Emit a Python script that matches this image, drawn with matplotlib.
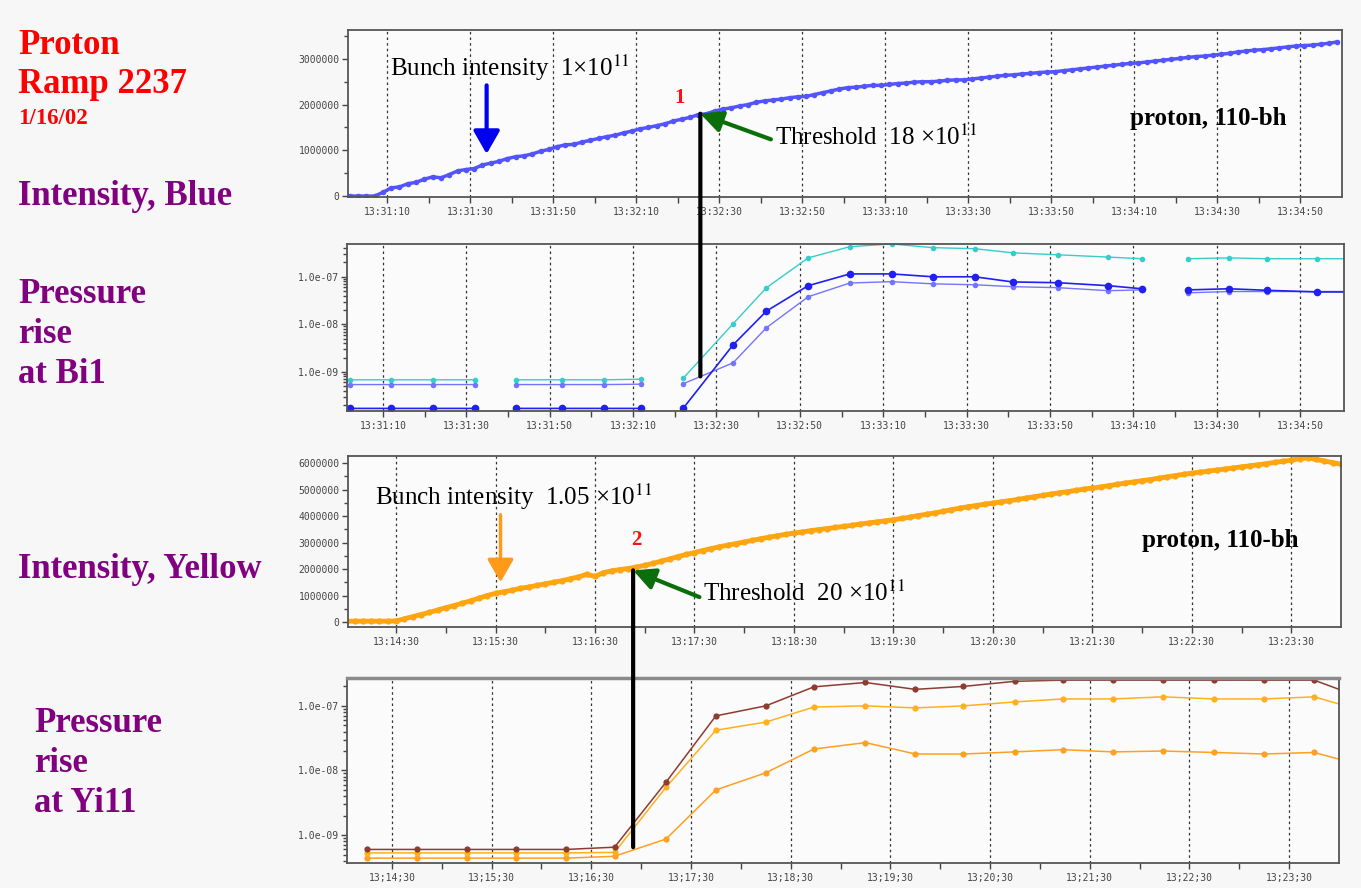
import numpy as np
import matplotlib
matplotlib.use("Agg")
import matplotlib.pyplot as plt
from matplotlib.ticker import FuncFormatter, FixedLocator, MultipleLocator, NullFormatter
from matplotlib.patches import ConnectionPatch
from matplotlib.transforms import blended_transform_factory

W, H = 1361, 888

# Blue ring intensity, one sample every 2 s starting 13:31:01 (units of 1e6)
blue_int = [0.00, 0.00, 0.00, 0.00, 0.08, 0.18, 0.20, 0.27, 0.30, 0.37,
            0.42, 0.40, 0.47, 0.55, 0.58, 0.60, 0.68, 0.72, 0.76, 0.82,
            0.86, 0.88, 0.92, 0.98, 1.02, 1.08, 1.12, 1.13, 1.18, 1.22,
            1.26, 1.30, 1.33, 1.38, 1.42, 1.47, 1.50, 1.54, 1.58, 1.64,
            1.68, 1.72, 1.78, 1.80, 1.86, 1.90, 1.93, 1.97, 2.00, 2.05,
            2.08, 2.10, 2.12, 2.15, 2.17, 2.18, 2.22, 2.26, 2.30, 2.34,
            2.37, 2.38, 2.40, 2.42, 2.42, 2.44, 2.46, 2.47, 2.49, 2.50,
            2.50, 2.51, 2.53, 2.54, 2.54, 2.56, 2.58, 2.60, 2.62, 2.64,
            2.65, 2.67, 2.68, 2.70, 2.71, 2.72, 2.74, 2.76, 2.78, 2.80,
            2.82, 2.84, 2.86, 2.88, 2.90, 2.91, 2.93, 2.95, 2.97, 2.99,
            3.01, 3.03, 3.05, 3.06, 3.08, 3.10, 3.12, 3.15, 3.17, 3.19,
            3.20, 3.22, 3.24, 3.26, 3.28, 3.29, 3.30, 3.32, 3.34, 3.37]

# Bi1 vacuum gauges (seconds after 13:31:00), nan = no reading
bi1_t = [2, 12, 22, 32, 37, 42, 53, 63, 72, 77, 82, 94, 102, 112, 122, 132, 142,
         152, 161, 172, 184, 192, 197, 203, 213, 222, 234, 244]
bi1_cyan = [6.8e-10, 6.8e-10, 6.8e-10, 6.8e-10, np.nan, 6.8e-10, 6.8e-10, 6.8e-10, 7.0e-10,
            np.nan, 7.3e-10, 1.03e-8, 5.9e-8, 2.5e-7, 4.3e-7, 4.9e-7, 4.1e-7, 3.9e-7, 3.2e-7,
            2.9e-7, 2.6e-7, 2.4e-7, np.nan, 2.4e-7, 2.5e-7, 2.4e-7, 2.4e-7, 2.4e-7]
bi1_mid = [5.4e-10, 5.4e-10, 5.4e-10, 5.4e-10, np.nan, 5.4e-10, 5.4e-10, 5.4e-10, 5.5e-10,
           np.nan, 5.6e-10, 1.55e-9, 8.5e-9, 3.8e-8, 7.4e-8, 7.9e-8, 7.1e-8, 6.8e-8, 6.2e-8,
           5.9e-8, 5.1e-8, 5.3e-8, np.nan, 4.6e-8, 4.9e-8, 4.9e-8, 4.9e-8, 4.9e-8]
bi1_dark = [1.7e-10, 1.7e-10, 1.7e-10, 1.7e-10, np.nan, 1.7e-10, 1.7e-10, 1.7e-10, 1.7e-10,
            np.nan, 1.7e-10, 3.7e-9, 1.9e-8, 6.5e-8, 1.15e-7, 1.15e-7, 1.0e-7, 1.0e-7, 7.8e-8,
            7.5e-8, 6.5e-8, 5.6e-8, np.nan, 5.3e-8, 5.6e-8, 5.2e-8, 4.8e-8, 4.8e-8]

# Yellow ring intensity, one sample every 5 s starting 13:14:00 (units of 1e6)
yel_int = [0.03, 0.03, 0.03, 0.03, 0.03, 0.03, 0.04, 0.12, 0.20, 0.28,
           0.36, 0.45, 0.54, 0.62, 0.71, 0.80, 0.90, 1.00, 1.08, 1.14,
           1.20, 1.27, 1.32, 1.38, 1.44, 1.50, 1.56, 1.63, 1.70, 1.80,
           1.72, 1.86, 1.93, 1.98, 2.02, 2.07, 2.14, 2.21, 2.30, 2.38,
           2.47, 2.55, 2.62, 2.70, 2.77, 2.84, 2.90, 2.96, 3.02, 3.08,
           3.15, 3.20, 3.26, 3.31, 3.36, 3.40, 3.45, 3.49, 3.53, 3.57,
           3.61, 3.65, 3.70, 3.74, 3.78, 3.82, 3.86, 3.91, 3.96, 4.02,
           4.07, 4.12, 4.18, 4.24, 4.30, 4.35, 4.40, 4.45, 4.49, 4.54,
           4.58, 4.63, 4.68, 4.73, 4.78, 4.83, 4.88, 4.92, 4.97, 5.02,
           5.06, 5.10, 5.15, 5.20, 5.25, 5.29, 5.34, 5.38, 5.43, 5.48,
           5.53, 5.58, 5.62, 5.66, 5.70, 5.74, 5.78, 5.82, 5.86, 5.90,
           5.94, 5.98, 6.03, 6.07, 6.11, 6.17, 6.20, 6.14, 6.08, 6.02,
           5.96]

# Yi11 vacuum gauges (seconds after 13:14:00)
yi_t = [15, 45, 75, 105, 135, 164, 195, 225, 255, 284, 315, 345, 374, 405, 434,
        464, 494, 525, 555, 585, 615]
yi_brown = [6.0e-10, 6.0e-10, 6.0e-10, 6.0e-10, 6.0e-10, 6.5e-10, 6.6e-9, 7.0e-8, 1.0e-7,
            1.97e-7, 2.3e-7, 1.8e-7, 2.0e-7, 2.4e-7, 2.5e-7, 2.5e-7, 2.5e-7, 2.5e-7, 2.5e-7,
            2.5e-7, 1.3e-7]
yi_upper = [5.3e-10, 5.3e-10, 5.3e-10, 5.3e-10, 5.3e-10, 5.4e-10, 5.5e-9, 4.2e-8, 5.6e-8,
            9.6e-8, 1.0e-7, 9.3e-8, 1.0e-7, 1.15e-7, 1.28e-7, 1.28e-7, 1.38e-7, 1.28e-7,
            1.28e-7, 1.38e-7, 8.3e-8]
yi_lower = [4.4e-10, 4.4e-10, 4.4e-10, 4.4e-10, 4.4e-10, 4.7e-10, 8.7e-10, 5.0e-9, 9.2e-9,
            2.15e-8, 2.7e-8, 1.8e-8, 1.8e-8, 1.94e-8, 2.1e-8, 1.94e-8, 2.0e-8, 1.9e-8,
            1.8e-8, 1.9e-8, 1.18e-8]

blue_ticks = [0, 1e6, 2e6, 3e6]
yel_ticks = [0, 1e6, 2e6, 3e6, 4e6, 5e6, 6e6]
p_ticks = [1e-9, 1e-8, 1e-7]

plt.rcParams["font.family"] = "DejaVu Sans Mono"
plt.rcParams["mathtext.fontset"] = "stix"

SERIF = "Liberation Serif"
BG = "#f7f7f7"


def box(x0, y0, x1, y1):
    return [x0 / W, 1 - y1 / H, (x1 - x0) / W, (y1 - y0) / H]


def clock(base, sep=":"):
    def fmt(v, pos):
        s = int(round(base + v))
        return f"{s // 3600}{sep}{s // 60 % 60:02d}{sep}{s % 60:02d}"
    return FuncFormatter(fmt)


def style(ax, xlim, majors, minors, fmt):
    ax.set_facecolor("#fbfbfb")
    ax.set_xlim(*xlim)
    ax.xaxis.set_major_locator(FixedLocator(majors))
    ax.xaxis.set_minor_locator(FixedLocator(minors))
    ax.xaxis.set_major_formatter(fmt)
    ax.grid(axis="x", which="major", color="#333333", lw=0.9, ls=(0, (2, 2.5)))
    ax.tick_params(which="both", direction="out", length=4, width=1,
                   colors="#444444", labelsize=7, pad=3)
    ax.tick_params(axis="y", which="minor", length=3)
    ax.tick_params(axis="y", pad=2)
    for sp in ax.spines.values():
        sp.set_color("#555555")
        sp.set_linewidth(1.3)


def intensity_axis(ax, ylim, ticks):
    ax.set_ylim(*ylim)
    ax.yaxis.set_major_locator(FixedLocator(ticks))
    ax.yaxis.set_minor_locator(MultipleLocator(5e5))
    ax.yaxis.set_major_formatter(FuncFormatter(lambda v, p: f"{int(round(v))}"))


def pressure_axis(ax, ylim):
    ax.set_yscale("log")
    ax.set_ylim(*ylim)
    ax.yaxis.set_major_locator(FixedLocator(p_ticks))
    ax.yaxis.set_major_formatter(FuncFormatter(lambda v, p: f"{v:.1e}"))
    ax.yaxis.set_minor_formatter(NullFormatter())


fig = plt.figure(figsize=(W / 100, H / 100), dpi=100, facecolor=BG)

ax1 = fig.add_axes(box(348, 30, 1342, 197))
ax2 = fig.add_axes(box(347, 244, 1344, 411))
ax3 = fig.add_axes(box(348, 456, 1341, 627))
ax4 = fig.add_axes(box(347, 678, 1339, 863))

blue_base = 13 * 3600 + 31 * 60
yel_base = 13 * 3600 + 14 * 60

# Intensity, Blue
t_blue = 1 + 2 * np.arange(len(blue_int))
ax1.plot(t_blue, np.array(blue_int) * 1e6, color="#5454ff", lw=2.5,
         marker="o", ms=4, mew=0)
style(ax1, (0.6, 240.1), np.arange(10, 240, 20), np.arange(20, 240, 20), clock(blue_base))
intensity_axis(ax1, (-0.02e6, 3.63e6), blue_ticks)

# Pressure at Bi1
ax2.plot(bi1_t, bi1_cyan, color="#36cccc", lw=1, marker="o", ms=4, mew=0)
ax2.plot(bi1_t, bi1_mid, color="#7474ff", lw=1, marker="o", ms=4, mew=0)
ax2.plot(bi1_t, bi1_dark, color="#2020f0", lw=1.2, marker="o", ms=5.5, mew=0)
style(ax2, (1.4, 240.5), np.arange(10, 240, 20), np.arange(20, 240, 20), clock(blue_base))
pressure_axis(ax2, (1.5e-10, 4.9e-7))

# Intensity, Yellow
t_yel = 5 * np.arange(len(yel_int))
ax3.plot(t_yel, np.array(yel_int) * 1e6, color="#ffa510", lw=3.5,
         marker="o", ms=4.5, mew=0)
style(ax3, (1, 600), np.arange(30, 600, 60), np.arange(60, 600, 60), clock(yel_base))
intensity_axis(ax3, (-0.19e6, 6.27e6), yel_ticks)

# Pressure at Yi11
ax4.plot(yi_t, yi_lower, color="#ffa020", lw=1.1, marker="o", ms=4.5, mew=0)
ax4.plot(yi_t, yi_upper, color="#ffb020", lw=1.1, marker="o", ms=4.5, mew=0)
ax4.plot(yi_t, yi_brown, color="#8e3b30", lw=1.1, marker="o", ms=4.5, mew=0)
style(ax4, (3, 600), np.arange(30, 600, 60), np.arange(60, 600, 60), clock(yel_base, ";"))
pressure_axis(ax4, (3.7e-10, 2.7e-7))
ax4.spines["top"].set_color("#8a8a8a")
ax4.spines["top"].set_linewidth(2.5)


def ftext(x, y, s, **kw):
    kw.setdefault("family", SERIF)
    fig.text(x / W, 1 - y / H, s, **kw)


def arrow(ax, tip, tail, color, hw, hl, lw=2.5):
    ax.annotate("", xy=tip, xytext=tail, annotation_clip=False,
                arrowprops=dict(arrowstyle=f"-|>,head_width={hw},head_length={hl}",
                                color=color, lw=lw, shrinkA=0, shrinkB=0,
                                mutation_scale=10))


def threshold_line(top_ax, bottom_ax, x, y_top, y_bottom):
    # vertical marker from the intensity curve down into the pressure panel
    below = blended_transform_factory(top_ax.transData, bottom_ax.transData)
    fig.add_artist(ConnectionPatch(xyA=(x, y_top), coordsA=top_ax.transData,
                                   xyB=(x, y_bottom), coordsB=below,
                                   color="black", lw=3))


# annotations on the blue ramp
ftext(390, 68, "Bunch intensity  1×10$^{11}$", fontsize=18, va="center")
arrow(ax1, (34, 0.92e6), (34, 2.42e6), "#0000ee", 0.8, 1.4, lw=3)
ftext(680, 98, "1", fontsize=15, weight="bold", color="#ff1010", ha="center", va="center")
arrow(ax1, (85.5, 1.8e6), (102.5, 1.24e6), "#0a6e0a", 0.65, 1.3, lw=3)
ftext(775, 137, "Threshold  18 ×10$^{11}$", fontsize=18, va="center")
ftext(1130, 119, "proton, 110-bh", fontsize=18, weight="bold", va="center")
threshold_line(ax1, ax2, 85.5, 1.8e6, 8.0e-10)

# annotations on the yellow ramp
ftext(375, 497, "Bunch intensity  1.05 ×10$^{11}$", fontsize=18, va="center")
arrow(ax3, (93, 1.5e6), (93, 4.05e6), "#ff9a1a", 0.8, 1.4, lw=2.5)
ftext(636, 540, "2", fontsize=15, weight="bold", color="#ff1010", ha="center", va="center")
arrow(ax3, (173, 1.95e6), (213, 0.94e6), "#0a6e0a", 0.65, 1.3, lw=3)
ftext(703, 593, "Threshold  20 ×10$^{11}$", fontsize=18, va="center")
ftext(1142, 540, "proton, 110-bh", fontsize=18, weight="bold", va="center")
threshold_line(ax3, ax4, 173, 1.95e6, 6.5e-10)

# row labels on the left
RED, PURPLE = "#ff0000", "#800080"
ftext(18, 54, "Proton", fontsize=25, weight="bold", color=RED)
ftext(18, 93, "Ramp 2237", fontsize=25, weight="bold", color=RED)
ftext(18, 124, "1/16/02", fontsize=16.5, weight="bold", color=RED)
ftext(18, 205, "Intensity, Blue", fontsize=25, weight="bold", color=PURPLE)
ftext(18, 303, "Pressure", fontsize=25, weight="bold", color=PURPLE)
ftext(18, 343, "rise", fontsize=25, weight="bold", color=PURPLE)
ftext(18, 383, "at Bi1", fontsize=25, weight="bold", color=PURPLE)
ftext(18, 578, "Intensity, Yellow", fontsize=25, weight="bold", color=PURPLE)
ftext(34, 732, "Pressure", fontsize=25, weight="bold", color=PURPLE)
ftext(34, 772, "rise", fontsize=25, weight="bold", color=PURPLE)
ftext(34, 812, "at Yi11", fontsize=25, weight="bold", color=PURPLE)

fig.savefig("out.png", dpi=100, facecolor=BG)
